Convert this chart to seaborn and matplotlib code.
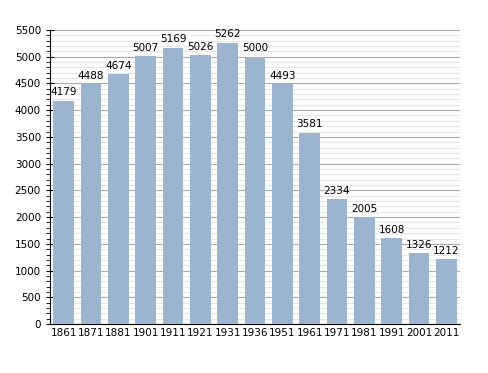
import matplotlib
matplotlib.use("Agg")
import matplotlib.pyplot as plt
import seaborn as sns
import pandas as pd
from matplotlib.ticker import MultipleLocator

years = ["1861", "1871", "1881", "1901", "1911", "1921", "1931", "1936",
         "1951", "1961", "1971", "1981", "1991", "2001", "2011"]
population = [4179, 4488, 4674, 5007, 5169, 5026, 5262, 5000,
              4493, 3581, 2334, 2005, 1608, 1326, 1212]

df = pd.DataFrame({"year": years, "pop": population})

sns.set_style("white")
plt.rcParams["font.family"] = ["DejaVu Sans"]
plt.rcParams["text.color"] = "black"
plt.rcParams["xtick.color"] = "black"
plt.rcParams["ytick.color"] = "black"

fig = plt.figure(figsize=(4.88, 3.73), dpi=100)
ax = fig.add_axes([0.1025, 0.131, 0.84, 0.789])

sns.barplot(data=df, x="year", y="pop", color="#9bb4d0", saturation=1,
            width=0.75, ax=ax, zorder=3, linewidth=0)

ax.set_ylim(0, 5500)
ax.set_xlim(-0.5, len(years) - 0.5)
ax.yaxis.set_major_locator(MultipleLocator(500))
ax.yaxis.set_minor_locator(MultipleLocator(100))
ax.grid(axis="y", which="major", color="#aaaaaa", linewidth=0.8, zorder=0)
ax.grid(axis="y", which="minor", color="#e2e2e2", linewidth=0.6, zorder=0)
ax.set_axisbelow(True)

for s in ["top", "right"]:
    ax.spines[s].set_visible(False)
ax.spines["left"].set_color("black")
ax.spines["bottom"].set_color("black")

ax.tick_params(axis="y", which="major", direction="inout", length=6,
               labelsize=7.5, left=True, labelcolor="black")
ax.tick_params(axis="y", which="minor", direction="out", length=3, left=True)
ax.tick_params(axis="x", length=0, labelsize=7.5, pad=3, labelcolor="black")

for i, v in enumerate(population):
    ax.text(i, v + 60, str(v), ha="center", va="bottom", fontsize=7.5,
            color="black")

ax.set_xlabel("")
ax.set_ylabel("")

fig.savefig("out.png", dpi=100, facecolor="white")
